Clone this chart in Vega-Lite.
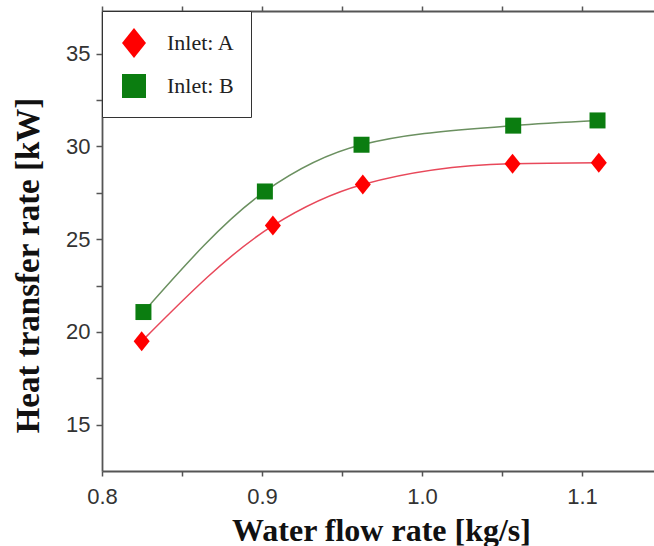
{
  "$schema": "https://vega.github.io/schema/vega-lite/v6.json",
  "width": 552,
  "height": 460,
  "autosize": {"type": "none"},
  "padding": {"left": 102, "top": 11, "right": 0, "bottom": 75},
  "background": "white",
  "config": {"view": {"stroke": null}, "font": "Liberation Sans"},
  "data": {
    "values": [
      {"series": "Inlet: A", "flow": 0.8248, "heat": 19.49},
      {"series": "Inlet: A", "flow": 0.9068, "heat": 25.73},
      {"series": "Inlet: A", "flow": 0.963, "heat": 27.95},
      {"series": "Inlet: A", "flow": 1.0566, "heat": 29.07},
      {"series": "Inlet: A", "flow": 1.1105, "heat": 29.12},
      {"series": "Inlet: B", "flow": 0.8259, "heat": 21.07},
      {"series": "Inlet: B", "flow": 0.9018, "heat": 27.57},
      {"series": "Inlet: B", "flow": 0.9622, "heat": 30.09},
      {"series": "Inlet: B", "flow": 1.057, "heat": 31.12},
      {"series": "Inlet: B", "flow": 1.1097, "heat": 31.40}
    ]
  },
  "layer": [
    {
      "mark": {"type": "line", "interpolate": "monotone", "strokeWidth": 1.5},
      "encoding": {
        "x": {
          "field": "flow", "type": "quantitative",
          "scale": {"domain": [0.8, 1.145], "nice": false, "zero": false},
          "axis": {
            "orient": "bottom",
            "values": [0.8, 0.85, 0.9, 0.95, 1.0, 1.05, 1.1],
            "format": ".1f",
            "labelExpr": "round(datum.value*100) % 10 == 0 ? datum.label : ''",
            "grid": false,
            "tickSize": 5, "tickColor": "#555", "tickWidth": 1.5,
            "domainColor": "#555", "domainWidth": 1.8,
            "labelPadding": 10, "labelFontSize": 22, "labelColor": "#333",
            "labelFlush": false, "labelOverlap": false,
            "encode": {"ticks": {"y2": {"value": -5}}},
            "title": "Water flow rate [kg/s]",
            "titleFont": "Liberation Serif", "titleFontWeight": "bold", "titleFontSize": 32, "titleColor": "#111",
            "titleX": 279, "titleY": 69, "titleBaseline": "alphabetic", "titleAlign": "center"
          }
        },
        "y": {
          "field": "heat", "type": "quantitative",
          "scale": {"domain": [12.5, 37.3], "nice": false, "zero": false},
          "axis": {
            "orient": "left",
            "values": [15, 17.5, 20, 22.5, 25, 27.5, 30, 32.5, 35],
            "labelExpr": "datum.value % 5 == 0 ? datum.label : ''",
            "grid": false,
            "tickSize": 6, "tickColor": "#555", "tickWidth": 1.5,
            "domainColor": "#555", "domainWidth": 1.8,
            "labelPadding": 6, "labelFontSize": 22, "labelColor": "#333",
            "labelFlush": false, "labelOverlap": false,
            "encode": {"ticks": {"x2": {"value": 6}}},
            "title": "Heat transfer rate [kW]",
            "titleFont": "Liberation Serif", "titleFontWeight": "bold", "titleFontSize": 33, "titleColor": "#111",
            "titleX": -74, "titleY": 254, "titleBaseline": "middle", "titleAlign": "center"
          }
        },
        "stroke": {
          "field": "series", "type": "nominal",
          "scale": {"domain": ["Inlet: B", "Inlet: A"], "range": ["#6b9060", "#e8485a"]},
          "legend": null
        }
      }
    },
    {
      "mark": {"type": "point", "filled": true, "size": 400, "opacity": 1},
      "encoding": {
        "x": {
          "field": "flow", "type": "quantitative",
          "scale": {"domain": [0.8, 1.145], "nice": false, "zero": false},
          "axis": {
            "orient": "top",
            "values": [0.8, 0.85, 0.9, 0.95, 1.0, 1.05, 1.1],
            "labels": false,
            "grid": false,
            "tickSize": 5, "tickColor": "#555", "tickWidth": 1.5,
            "domainColor": "#555", "domainWidth": 1.8,
            "encode": {"ticks": {"y2": {"value": 5}}},
            "title": null
          }
        },
        "y": {
          "field": "heat", "type": "quantitative",
          "scale": {"domain": [12.5, 37.3], "nice": false, "zero": false},
          "axis": {
            "orient": "left",
            "values": [15, 17.5, 20, 22.5, 25, 27.5, 30, 32.5, 35],
            "labelExpr": "datum.value % 5 == 0 ? datum.label : ''",
            "grid": false,
            "tickSize": 6, "tickColor": "#555", "tickWidth": 1.5,
            "domainColor": "#555", "domainWidth": 1.8,
            "labelPadding": 6, "labelFontSize": 22, "labelColor": "#333",
            "labelFlush": false, "labelOverlap": false,
            "encode": {"ticks": {"x2": {"value": 6}}},
            "title": "Heat transfer rate [kW]",
            "titleFont": "Liberation Serif", "titleFontWeight": "bold", "titleFontSize": 33, "titleColor": "#111",
            "titleX": -74, "titleY": 254, "titleBaseline": "middle", "titleAlign": "center"
          }
        },
        "fill": {
          "field": "series", "type": "nominal",
          "scale": {"domain": ["Inlet: A", "Inlet: B"], "range": ["#ff0000", "#0b7d10"]},
          "legend": {
            "title": null,
            "orient": "top-left",
            "offset": 0,
            "padding": 16,
            "strokeColor": "#333",
            "fillColor": "white",
            "symbolSize": 900,
            "labelFont": "Liberation Serif",
            "labelFontSize": 22,
            "labelColor": "#222",
            "labelOffset": 17,
            "rowPadding": 9
          }
        },
        "shape": {
          "field": "series", "type": "nominal",
          "scale": {"domain": ["Inlet: A", "Inlet: B"], "range": ["M-0.8,0L0,-1L0.8,0L0,1Z", "M-0.8,-0.8L0.8,-0.8L0.8,0.8L-0.8,0.8Z"]},
          "legend": {
            "title": null,
            "orient": "top-left",
            "offset": 0,
            "padding": 16,
            "strokeColor": "#333",
            "fillColor": "white",
            "symbolSize": 900,
            "labelFont": "Liberation Serif",
            "labelFontSize": 22,
            "labelColor": "#222",
            "labelOffset": 17,
            "rowPadding": 9
          }
        }
      }
    }
  ],
  "resolve": {"axis": {"x": "independent"}}
}
